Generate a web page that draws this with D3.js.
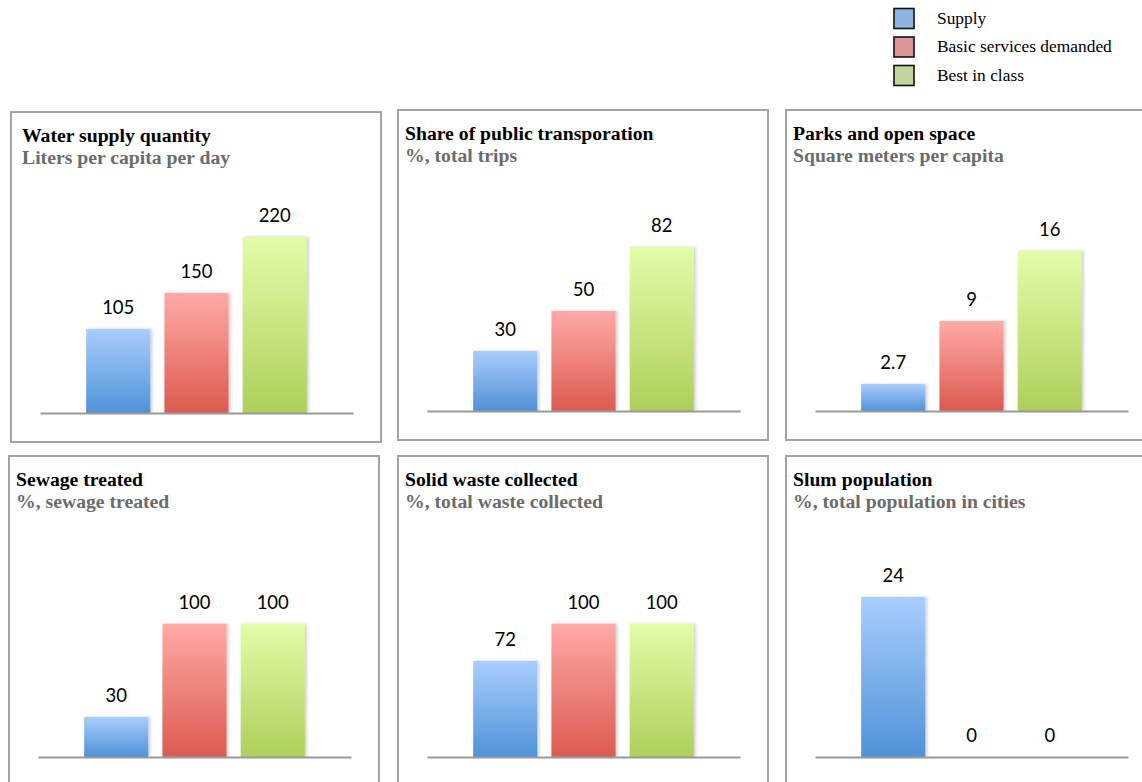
<!DOCTYPE html>
<html>
<head>
<meta charset="utf-8">
<script src="https://cdn.jsdelivr.net/npm/d3@7"></script>
<style>
  html, body { margin: 0; padding: 0; background: #fff; overflow: hidden; }
  svg { display: block; }
</style>
</head>
<body>
<svg id="chart" width="1142" height="782"></svg>
<script>
// Indicator panels
const titles = [
  "Water supply quantity",
  "Share of public transporation",
  "Parks and open space",
  "Sewage treated",
  "Solid waste collected",
  "Slum population"
];
const units = [
  "Liters per capita per day",
  "%, total trips",
  "Square meters per capita",
  "%, sewage treated",
  "%, total waste collected",
  "%, total population in cities"
];
const series = ["Supply", "Basic services demanded", "Best in class"];
const supply = [105, 30, 2.7, 30, 72, 24];
const basic  = [150, 50, 9, 100, 100, 0];
const best   = [220, 82, 16, 100, 100, 0];
const axisMax = [250, 100, 20, 150, 150, 30];

// Layout
const panelPos = [[11, 112], [398, 110], [786, 110], [9, 456], [398, 456], [786, 456]];
const titleInset = [11, 7, 7, 7, 7, 7];
const panelW = 370, panelH = 330;
const axisLeft = 29, axisRight = 342, baseY = 301, plotH = 200;

const legendFill = ["#8eb4e3", "#d99694", "#c3d69b"];
const gradStops = [
  ["#a9cdfd", "#4f92d7"],
  ["#ffaaa7", "#dc5a4f"],
  ["#e3fca9", "#aecf5a"]
];

const svg = d3.select("#chart");
const defs = svg.append("defs");

gradStops.forEach((g, i) => {
  const lg = defs.append("linearGradient")
    .attr("id", "grad" + i)
    .attr("x1", 0).attr("y1", 0).attr("x2", 0).attr("y2", 1);
  lg.append("stop").attr("offset", "0%").attr("stop-color", g[0]);
  lg.append("stop").attr("offset", "100%").attr("stop-color", g[1]);
});

const shadow = defs.append("filter").attr("id", "barShadow")
  .attr("x", "-20%").attr("y", "-20%").attr("width", "140%").attr("height", "140%");
shadow.append("feDropShadow")
  .attr("dx", 2).attr("dy", 0).attr("stdDeviation", 1.5)
  .attr("flood-color", "#000").attr("flood-opacity", 0.18);

// Legend
const legend = svg.append("g").attr("transform", "translate(893,0)");
series.forEach((s, i) => {
  const cy = 18.5 + i * 28.5;
  legend.append("rect")
    .attr("x", 1).attr("y", cy - 10)
    .attr("width", 20).attr("height", 20)
    .attr("fill", legendFill[i])
    .attr("stroke", "#111").attr("stroke-width", 1.6);
  legend.append("text")
    .attr("x", 44).attr("y", cy + 5)
    .attr("font-family", "'Liberation Serif', 'Times New Roman', serif")
    .attr("font-size", 17.4)
    .attr("fill", "#000")
    .text(s);
});

// Panels
const values = titles.map((t, i) => [supply[i], basic[i], best[i]]);

titles.forEach((title, p) => {
  const [px, py] = panelPos[p];
  const g = svg.append("g").attr("transform", `translate(${px},${py})`);

  g.append("rect")
    .attr("x", 0).attr("y", 0)
    .attr("width", panelW).attr("height", panelH)
    .attr("fill", "#fff")
    .attr("stroke", "#a3a3a3").attr("stroke-width", 2);

  g.append("text")
    .attr("x", titleInset[p]).attr("y", 30)
    .attr("font-family", "'Liberation Serif', 'Times New Roman', serif")
    .attr("font-weight", "bold").attr("font-size", 19.7)
    .attr("fill", "#000")
    .text(title);
  g.append("text")
    .attr("x", titleInset[p]).attr("y", 52)
    .attr("font-family", "'Liberation Serif', 'Times New Roman', serif")
    .attr("font-weight", "bold").attr("font-size", 19.7)
    .attr("fill", "#6b6b6b")
    .text(units[p]);

  const x = d3.scaleBand()
    .domain(series)
    .range([axisLeft, axisRight])
    .paddingInner(0.18)
    .paddingOuter(0.59);
  const y = d3.scaleLinear()
    .domain([0, axisMax[p]])
    .range([baseY, baseY - plotH]);

  const rows = series.map((s, i) => ({ s, i, v: values[p][i] }));

  g.selectAll("rect.bar")
    .data(rows.filter(d => d.v > 0))
    .join("rect")
    .attr("class", "bar")
    .attr("x", d => x(d.s))
    .attr("y", d => y(d.v))
    .attr("width", x.bandwidth())
    .attr("height", d => y(0) - y(d.v))
    .attr("fill", d => `url(#grad${d.i})`)
    .attr("filter", "url(#barShadow)");

  // category axis line
  const axis = d3.axisBottom(d3.scaleLinear().range([axisLeft, axisRight]))
    .ticks(0).tickSize(0).tickFormat("");
  const ax = g.append("g").attr("transform", `translate(0,${baseY})`).call(axis);
  ax.select(".domain").attr("stroke", "#999").attr("stroke-width", 2.2);

  g.selectAll("text.val")
    .data(rows)
    .join("text")
    .attr("class", "val")
    .attr("x", d => x(d.s) + x.bandwidth() / 2)
    .attr("y", d => y(d.v) - 15)
    .attr("text-anchor", "middle")
    .attr("font-family", "Lato, 'Open Sans', sans-serif")
    .attr("font-size", 18.5)
    .attr("fill", "#000")
    .text(d => String(d.v));
});
</script>
</body>
</html>
